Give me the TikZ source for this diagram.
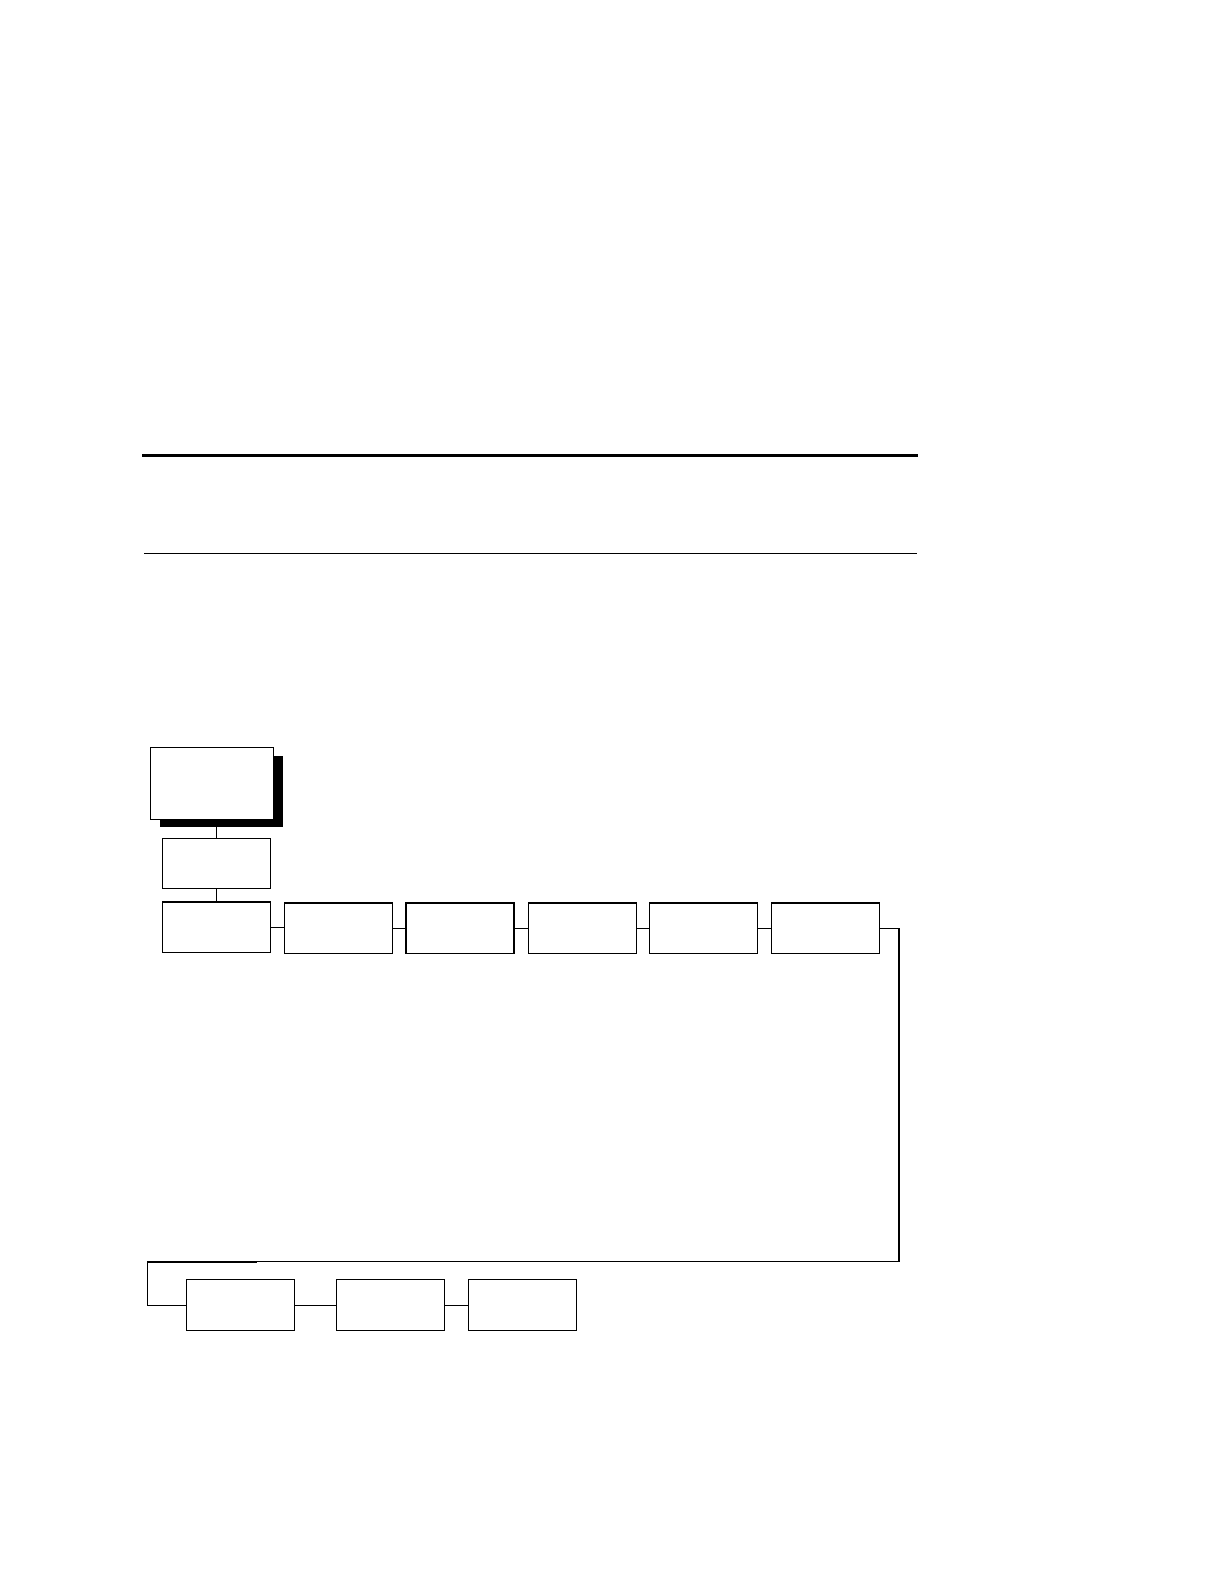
\documentclass[tikz,border=0pt]{standalone}
\begin{document}
\begin{tikzpicture}[x=1.0101pt,y=-1.0101pt,
  box/.style={draw, line width=1.2pt, fill=white, minimum width=108pt, minimum height=50.5pt, inner sep=0pt, outer sep=0pt, anchor=north west},
  conn/.style={line width=1.1pt},
  rule/.style={line width=1pt}]
\useasboundingbox (0pt,0pt) rectangle (1222pt,-1584pt);
\fill[white] (0pt,0pt) rectangle (1222pt,-1584pt);
% horizontal rules
\draw[line width=2.4pt] (141,451) -- (909,451);
\draw[rule] (143,548) -- (908,548);
% top box with shadow
\fill[black] (158,748) rectangle (280,819);
\node[box, minimum width=123pt, minimum height=72pt] (top) at (149,740) {};
\node[box] (b2) at (161,830) {};
% row
\node[box] (r1) at (161,893) {};
\node[box] (r2) at (282,894) {};
\node[box] (r3) at (402,894) {};
\node[box] (r4) at (523,894) {};
\node[box] (r5) at (643,894) {};
\node[box] (r6) at (764,894) {};
% bottom row
\node[box] (s1) at (185,1267) {};
\node[box] (s2) at (333,1267) {};
\node[box] (s3) at (464,1267) {};
% connectors
\draw[conn] (b2.north) -- (b2.north |- 0,819);
\draw[conn] (b2.south) -- (r1.north);
\draw[conn] (r1.east) -- (r1.east -| r2.west);
\draw[conn] (r2.east) -- (r3.west);
\draw[conn] (r3.east) -- (r4.west);
\draw[conn] (r4.east) -- (r5.west);
\draw[conn] (r5.east) -- (r6.west);
\coordinate (c1) at (890,1249);
\coordinate (c2) at (146,1249);
\coordinate (c3) at (254,1249);
\draw[conn] (r6.east) -| (c1) -- (c2) |- (s1.west);
\draw[line width=2pt] (c2) -- (c3);
\draw[conn] (s1.east) -- (s2.west);
\draw[conn] (s2.east) -- (s3.west);
\end{tikzpicture}
\end{document}
